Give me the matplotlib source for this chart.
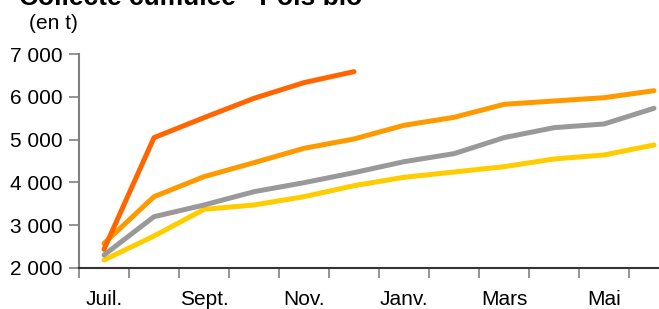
import matplotlib
matplotlib.use("Agg")
import matplotlib.pyplot as plt
import numpy as np

plt.rcParams['font.family'] = ['Liberation Sans', 'DejaVu Sans']

months = ["Juil.", "Août", "Sept.", "Oct.", "Nov.", "Déc.", "Janv.", "Févr.", "Mars", "Avr.", "Mai", "Juin"]
campagne_1 = [2180, 2742, 3367, 3469, 3664, 3922, 4118, 4242, 4367, 4547, 4641, 4875]
campagne_2 = [2297, 3195, 3469, 3781, 3992, 4227, 4484, 4672, 5047, 5281, 5367, 5735]
campagne_3 = [2570, 3664, 4133, 4461, 4797, 5016, 5336, 5523, 5828, 5906, 5983, 6147]
campagne_4 = [2430, 5047, 5516, 5969, 6336, 6594]
yticks = [2000, 3000, 4000, 5000, 6000, 7000]
ytick_labels = ["2 000", "3 000", "4 000", "5 000", "6 000", "7 000"]
title = "Collecte cumulée - Pois bio"
unit = "(en t)"

W, H = 659, 309
fig = plt.figure(figsize=(W/100, H/100), dpi=100)
ax = fig.add_axes([79/W, (H-267.7)/H, (W-79)/W, (267.7-54.3)/H])

x = np.arange(len(months))
lw = 3.6
ax.plot(x, campagne_1, color='#FFCC00', lw=lw, solid_capstyle='round', solid_joinstyle='round')
ax.plot(x, campagne_2, color='#999999', lw=lw, solid_capstyle='round', solid_joinstyle='round')
ax.plot(x, campagne_3, color='#FF9900', lw=lw, solid_capstyle='round', solid_joinstyle='round')
ax.plot(x[:len(campagne_4)], campagne_4, color='#FF6600', lw=lw, solid_capstyle='round', solid_joinstyle='round')

ax.set_yticks(yticks)
ax.set_yticklabels(ytick_labels, fontsize=15)
ax.tick_params(axis='y', length=7, width=1.2, color='#808080', pad=5)

ax.set_xticks(x[::2])
ax.set_xticklabels(months[::2], fontsize=15)
ax.set_xticks(np.arange(-0.5, len(months) + 0.5, 1), minor=True)
ax.tick_params(axis='x', which='major', length=0, pad=16)
ax.tick_params(axis='x', which='minor', length=7, width=1.2, color='#808080')

ax.set_xlim(-0.5, -0.5 + (W-79)/50)
ax.set_ylim(2000, 7000)

for s in ['top', 'right']:
    ax.spines[s].set_visible(False)
ax.spines['left'].set_color('#808080')
ax.spines['left'].set_linewidth(1.5)
ax.spines['bottom'].set_color('#333333')
ax.spines['bottom'].set_linewidth(1.5)

fig.text(19/W, 1 - 5/H, title, fontsize=19, fontweight='bold', va='baseline', ha='left')
fig.text(29/W, 1 - 23.5/H, unit, fontsize=15, va='center', ha='left')

fig.savefig("out.png", dpi=100)
